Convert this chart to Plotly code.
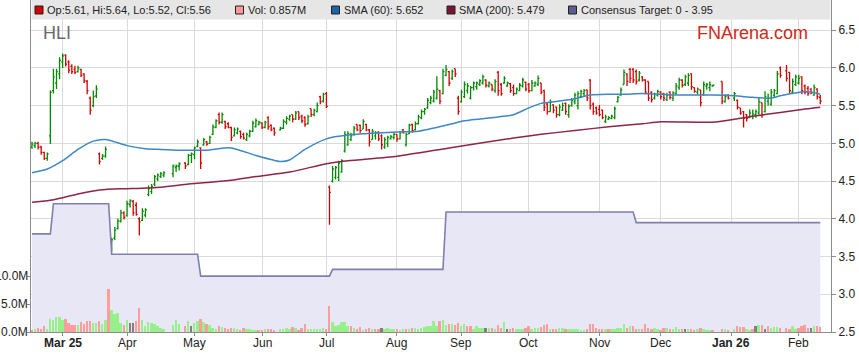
import pandas as pd
import plotly.graph_objects as go

# ---------------- data ----------------
holidays = ["2025-04-18", "2025-04-21", "2025-04-25", "2025-06-09",
            "2025-12-25", "2025-12-26", "2026-01-01", "2026-01-26"]

opens = [
    4.95, 4.97, 5.00, 4.95, 4.88, 4.80, 5.10, 5.70, 5.80, 5.92,  # Feb 25
    6.08, 6.17, 6.08, 6.02, 5.98, 5.95, 5.98, 5.92, 5.82, 5.60, 5.50, 5.63, 4.86, 4.80, 4.83, 3.80, 3.60, 3.74, 3.87, 3.97, 4.08,  # Mar
    4.04, 4.19, 4.23, 4.18, 4.00, 3.98, 4.05, 4.32, 4.36, 4.46, 4.53, 4.56, 4.58, 4.60, 4.68, 4.70, 4.74, 4.72, 4.84,  # Apr
    4.85, 4.96, 4.94, 4.98, 5.02, 5.00, 5.12, 5.21, 5.38, 5.28, 5.29, 5.26, 5.21, 5.10, 5.14, 5.16, 5.12, 5.05, 5.10, 5.16, 5.22, 5.25,  # May
    5.27, 5.21, 5.34, 5.24, 5.20, 5.18, 5.20, 5.28, 5.32, 5.38, 5.32, 5.42, 5.36, 5.34, 5.26, 5.46, 5.38, 5.42, 5.62, 5.56,  # Jun
    5.66, 4.42, 4.50, 4.55, 4.55, 4.62, 4.90, 4.98, 5.05, 5.12, 5.25, 5.24, 5.19, 5.25, 5.18, 5.05, 5.10, 5.15, 5.10, 4.95, 5.00, 5.06, 5.08,  # Jul
    5.12, 5.06, 5.18, 4.98, 5.13, 5.25, 5.18, 5.26, 5.34, 5.42, 5.47, 5.54, 5.56, 5.60, 5.70, 5.66, 5.90, 5.95, 5.86, 5.99, 5.60,  # Aug
    5.55, 5.62, 5.70, 5.60, 5.74, 5.75, 5.78, 5.80, 5.84, 5.76, 5.78, 5.70, 5.94, 5.78, 5.80, 5.76, 5.79, 5.74, 5.66, 5.70, 5.76, 5.81,  # Sep
    5.78, 5.70, 5.76, 5.78, 5.80, 5.70, 5.52, 5.42, 5.51, 5.48, 5.38, 5.44, 5.53, 5.38, 5.50, 5.55, 5.50, 5.62, 5.66, 5.71, 5.84, 5.52, 5.47,  # Oct
    5.45, 5.44, 5.29, 5.32, 5.33, 5.34, 5.55, 5.64, 5.78, 5.92, 5.98, 5.98, 5.95, 5.84, 5.88, 5.84, 5.82, 5.68, 5.60, 5.64,  # Nov
    5.68, 5.66, 5.58, 5.68, 5.60, 5.66, 5.74, 5.84, 5.78, 5.80, 5.92, 5.74, 5.68, 5.71, 5.65, 5.76, 5.74, 5.76, 5.82, 5.55, 5.64,  # Dec
    5.60, 5.57, 5.47, 5.42, 5.38, 5.34, 5.36, 5.38, 5.40, 5.54, 5.42, 5.56, 5.52, 5.64, 5.66, 6.00, 5.96, 5.94, 5.68, 5.78,  # Jan 26
    5.80, 5.88, 5.76, 5.73, 5.72, 5.64, 5.72, 5.61,  # Feb
]
highs = [
    5.02, 5.02, 5.02, 4.97, 4.89, 4.88, 5.70, 5.99, 5.99, 6.14,
    6.19, 6.18, 6.10, 6.05, 6.03, 6.03, 5.99, 5.93, 5.84, 5.62, 5.70, 5.77, 4.88, 4.86, 4.96, 3.86, 3.75, 3.89, 4.00, 4.12, 4.10,
    4.24, 4.26, 4.25, 4.22, 4.02, 4.14, 4.14, 4.44, 4.46, 4.58, 4.60, 4.62, 4.63, 4.72, 4.72, 4.75, 4.75, 4.86, 4.88,
    4.96, 5.05, 4.95, 5.07, 5.03, 5.10, 5.25, 5.32, 5.41, 5.41, 5.30, 5.28, 5.22, 5.21, 5.21, 5.17, 5.14, 5.14, 5.18, 5.30, 5.33, 5.30,
    5.28, 5.30, 5.36, 5.25, 5.21, 5.22, 5.32, 5.36, 5.38, 5.38, 5.43, 5.42, 5.38, 5.36, 5.38, 5.46, 5.46, 5.54, 5.63, 5.67,
    5.68, 4.44, 4.70, 4.70, 4.77, 4.79, 5.16, 5.16, 5.14, 5.23, 5.25, 5.25, 5.32, 5.26, 5.19, 5.19, 5.16, 5.16, 5.12, 5.08, 5.10, 5.11, 5.14,
    5.12, 5.16, 5.19, 5.14, 5.26, 5.26, 5.29, 5.38, 5.45, 5.47, 5.60, 5.63, 5.71, 5.89, 5.71, 5.99, 6.04, 5.96, 5.98, 5.99, 5.63,
    5.71, 5.82, 5.80, 5.76, 5.82, 5.82, 5.85, 5.91, 5.85, 5.82, 5.78, 5.85, 5.96, 5.80, 5.89, 5.82, 5.80, 5.78, 5.74, 5.80, 5.87, 5.82,
    5.80, 5.84, 5.82, 5.90, 5.80, 5.71, 5.54, 5.58, 5.52, 5.49, 5.52, 5.54, 5.54, 5.52, 5.60, 5.67, 5.69, 5.71, 5.72, 5.71, 5.85, 5.54, 5.49,
    5.51, 5.45, 5.38, 5.36, 5.38, 5.49, 5.63, 5.74, 5.98, 5.93, 6.00, 6.00, 5.98, 5.96, 5.89, 5.85, 5.82, 5.69, 5.67, 5.71,
    5.69, 5.67, 5.67, 5.69, 5.69, 5.80, 5.87, 5.85, 5.91, 5.93, 5.93, 5.74, 5.74, 5.71, 5.82, 5.80, 5.82, 5.78, 5.82, 5.65, 5.65,
    5.68, 5.58, 5.47, 5.43, 5.39, 5.45, 5.45, 5.45, 5.60, 5.54, 5.69, 5.66, 5.72, 5.72, 5.96, 6.02, 6.04, 5.95, 5.86, 5.91,
    5.91, 5.89, 5.78, 5.76, 5.73, 5.78, 5.73, 5.64,
]
lows = [
    4.93, 4.94, 4.92, 4.85, 4.78, 4.77, 4.99, 5.66, 5.72, 5.85,
    6.00, 6.02, 5.93, 5.92, 5.92, 5.94, 5.88, 5.80, 5.65, 5.38, 5.48, 5.60, 4.72, 4.78, 4.81, 3.43, 3.57, 3.72, 3.86, 3.95, 3.99,
    4.03, 4.15, 4.04, 4.04, 3.78, 3.97, 4.02, 4.30, 4.33, 4.43, 4.50, 4.54, 4.55, 4.55, 4.62, 4.64, 4.66, 4.71, 4.74,
    4.79, 4.95, 4.66, 4.97, 4.97, 4.99, 5.11, 5.20, 5.25, 5.26, 5.19, 5.20, 5.03, 5.09, 5.12, 5.06, 5.05, 5.03, 5.08, 5.15, 5.21, 5.24,
    5.19, 5.20, 5.18, 5.16, 5.10, 5.17, 5.19, 5.25, 5.30, 5.28, 5.31, 5.31, 5.27, 5.22, 5.25, 5.35, 5.36, 5.41, 5.52, 5.54,
    5.47, 3.92, 4.48, 4.52, 4.50, 4.61, 4.88, 4.97, 5.03, 5.10, 5.16, 5.14, 5.19, 5.16, 4.96, 5.05, 5.05, 5.03, 4.92, 4.93, 4.95, 5.05, 5.05,
    5.02, 5.05, 5.13, 4.96, 5.12, 5.14, 5.17, 5.25, 5.32, 5.38, 5.46, 5.52, 5.54, 5.58, 5.52, 5.65, 5.89, 5.76, 5.84, 5.88, 5.38,
    5.54, 5.60, 5.66, 5.58, 5.70, 5.71, 5.76, 5.78, 5.74, 5.74, 5.69, 5.67, 5.63, 5.63, 5.79, 5.75, 5.67, 5.63, 5.65, 5.69, 5.74, 5.69,
    5.67, 5.69, 5.75, 5.76, 5.65, 5.43, 5.38, 5.42, 5.40, 5.34, 5.36, 5.43, 5.38, 5.34, 5.49, 5.52, 5.45, 5.60, 5.62, 5.56, 5.45, 5.38, 5.38,
    5.36, 5.32, 5.27, 5.31, 5.32, 5.32, 5.54, 5.63, 5.78, 5.76, 5.80, 5.80, 5.78, 5.82, 5.82, 5.65, 5.56, 5.54, 5.58, 5.62,
    5.58, 5.56, 5.56, 5.58, 5.56, 5.65, 5.71, 5.74, 5.76, 5.76, 5.71, 5.67, 5.65, 5.49, 5.63, 5.71, 5.69, 5.75, 5.52, 5.54, 5.58,
    5.56, 5.45, 5.38, 5.21, 5.29, 5.34, 5.32, 5.34, 5.38, 5.34, 5.41, 5.50, 5.50, 5.60, 5.65, 5.87, 5.82, 5.66, 5.66, 5.76,
    5.78, 5.65, 5.65, 5.63, 5.65, 5.63, 5.58, 5.52,
]
closes = [
    4.99, 5.00, 4.95, 4.88, 4.80, 4.86, 5.68, 5.88, 5.95, 6.10,
    6.16, 6.05, 5.97, 5.95, 5.94, 6.00, 5.90, 5.83, 5.70, 5.44, 5.62, 5.72, 4.76, 4.83, 4.92, 3.55, 3.72, 3.85, 3.97, 4.08, 4.02,
    4.20, 4.24, 4.08, 4.06, 3.96, 4.10, 4.12, 4.40, 4.43, 4.56, 4.58, 4.60, 4.61, 4.70, 4.70, 4.73, 4.70, 4.84, 4.86,
    4.94, 5.02, 4.74, 5.05, 4.99, 5.08, 5.22, 5.30, 5.28, 5.38, 5.22, 5.21, 5.08, 5.18, 5.19, 5.09, 5.07, 5.12, 5.16, 5.27, 5.30, 5.28,
    5.21, 5.28, 5.22, 5.18, 5.14, 5.20, 5.29, 5.33, 5.36, 5.32, 5.40, 5.34, 5.30, 5.25, 5.35, 5.38, 5.44, 5.50, 5.55, 5.65,
    5.49, 4.35, 4.66, 4.68, 4.74, 4.77, 5.12, 5.13, 5.10, 5.20, 5.18, 5.17, 5.29, 5.18, 5.02, 5.16, 5.14, 5.06, 4.98, 5.05, 5.08, 5.09, 5.12,
    5.06, 5.14, 5.14, 5.12, 5.24, 5.17, 5.26, 5.35, 5.42, 5.45, 5.57, 5.60, 5.68, 5.72, 5.56, 5.95, 5.98, 5.80, 5.95, 5.92, 5.42,
    5.68, 5.78, 5.76, 5.74, 5.80, 5.80, 5.83, 5.88, 5.77, 5.80, 5.72, 5.82, 5.70, 5.66, 5.86, 5.80, 5.70, 5.66, 5.72, 5.77, 5.84, 5.72,
    5.70, 5.80, 5.80, 5.86, 5.68, 5.48, 5.42, 5.55, 5.44, 5.38, 5.48, 5.50, 5.42, 5.49, 5.57, 5.64, 5.66, 5.69, 5.70, 5.60, 5.50, 5.42, 5.40,
    5.38, 5.34, 5.35, 5.34, 5.36, 5.46, 5.61, 5.71, 5.94, 5.82, 5.86, 5.84, 5.82, 5.93, 5.84, 5.68, 5.60, 5.58, 5.65, 5.69,
    5.62, 5.60, 5.64, 5.61, 5.67, 5.76, 5.84, 5.77, 5.88, 5.90, 5.75, 5.69, 5.72, 5.54, 5.78, 5.78, 5.78, 5.77, 5.56, 5.62, 5.60,
    5.66, 5.48, 5.40, 5.33, 5.33, 5.40, 5.39, 5.42, 5.55, 5.38, 5.62, 5.60, 5.68, 5.70, 5.92, 5.90, 5.86, 5.70, 5.82, 5.88,
    5.86, 5.70, 5.68, 5.66, 5.67, 5.74, 5.62, 5.56,
]
volumes_m = [
    0.3, 0.5, 0.8, 0.6, 1.0, 0.6, 2.3, 2.2, 2.6, 2.6,
    2.2, 2.4, 1.6, 1.3, 1.3, 1.2, 1.7, 1.4, 1.9, 2.0, 1.6, 1.6, 2.0, 1.4, 2.2, 7.6, 4.0, 3.2, 3.4, 1.6, 1.2,
    2.2, 1.6, 1.6, 2.0, 4.3, 2.2, 1.0, 1.8, 1.6, 1.4, 1.0, 0.8, 0.5, 1.3, 2.2, 1.5, 1.0, 1.9, 1.0,
    1.6, 2.0, 2.4, 1.8, 1.5, 1.2, 0.8, 0.6, 1.0, 0.9, 0.8, 0.6, 0.7, 0.8, 0.5, 0.3, 0.7, 0.6, 0.5, 0.3, 0.4, 0.3,
    0.4, 0.6, 0.5, 0.6, 0.3, 0.5, 0.6, 0.8, 0.6, 0.9, 0.7, 0.4, 0.7, 1.5, 0.5, 0.6, 0.6, 0.5, 0.6, 0.7,
    0.6, 4.7, 1.8, 1.1, 1.2, 1.7, 1.7, 1.0, 1.0, 0.8, 0.5, 0.9, 0.4, 0.6, 0.7, 0.5, 0.6, 0.5, 0.8, 0.6, 0.7, 0.5, 0.6,
    0.5, 0.4, 0.5, 0.6, 0.5, 0.7, 0.8, 0.6, 0.7, 0.9, 1.0, 1.1, 1.9, 1.0, 2.0, 2.1, 1.2, 1.4, 1.5, 1.3, 1.6,
    1.1, 1.4, 1.0, 1.0, 0.6, 1.0, 0.7, 0.7, 0.8, 0.7, 0.8, 0.6, 1.2, 0.8, 1.7, 0.6, 0.5, 0.7, 0.5, 0.5, 0.6, 0.7,
    1.0, 0.6, 0.8, 0.8, 0.9, 1.2, 1.4, 0.5, 0.5, 0.5, 0.8, 0.7, 0.5, 0.6, 0.5, 0.6, 0.5, 0.3, 0.4, 0.5, 1.4, 1.4, 0.7,
    0.5, 0.6, 0.5, 0.5, 0.5, 0.6, 0.8, 0.7, 1.5, 0.8, 1.0, 1.0, 0.5, 0.5, 0.6, 1.5, 0.8, 0.6, 0.7, 0.5,
    0.4, 0.7, 0.8, 0.5, 0.6, 0.9, 0.6, 0.5, 0.6, 0.6, 0.5, 0.4, 0.6, 0.8, 0.5, 0.3, 0.2, 0.2, 0.6, 0.5, 0.4,
    0.6, 1.0, 0.9, 0.9, 0.5, 0.4, 0.5, 1.0, 1.2, 1.2, 0.6, 1.0, 0.8, 0.9, 0.9, 0.7, 0.8, 0.5, 1.0, 0.6,
    0.7, 1.0, 1.2, 0.7, 0.7, 1.0, 1.0, 0.857,
]
flat_days = ["2025-04-02", "2025-04-03", "2025-04-30", "2025-07-25", "2025-09-11",
             "2025-09-22", "2025-12-11", "2026-01-13", "2026-01-16", "2026-02-06"]

sma60_dates = ["2025-02-17", "2025-02-24", "2025-03-03", "2025-03-10", "2025-03-17", "2025-03-21",
               "2025-03-26", "2025-04-01", "2025-04-09", "2025-04-16", "2025-04-24", "2025-04-29",
               "2025-05-07", "2025-05-19", "2025-05-29", "2025-06-10", "2025-06-13", "2025-06-20",
               "2025-07-01", "2025-07-10", "2025-08-01", "2025-08-12", "2025-08-26", "2025-09-02",
               "2025-09-17", "2025-09-24", "2025-10-01", "2025-10-07", "2025-10-15", "2025-10-22",
               "2025-10-29", "2025-11-06", "2025-11-13", "2025-11-21", "2025-12-01", "2025-12-05",
               "2025-12-18", "2025-12-24", "2026-01-02", "2026-01-12", "2026-01-20", "2026-01-23",
               "2026-02-03", "2026-02-06", "2026-02-11"]
sma60_vals = [4.61, 4.66, 4.77, 4.92, 5.03, 5.05, 5.02, 4.97, 4.93, 4.92, 4.91, 4.91,
              4.91, 4.94, 4.84, 4.76, 4.78, 4.92, 5.06, 5.11, 5.15, 5.16, 5.25, 5.30,
              5.35, 5.38, 5.47, 5.53, 5.56, 5.59, 5.64, 5.65, 5.65, 5.66, 5.65, 5.64,
              5.64, 5.64, 5.63, 5.61, 5.60, 5.63, 5.68, 5.68, 5.652]

sma200_dates = ["2025-02-17", "2025-02-24", "2025-03-03", "2025-03-10", "2025-03-17", "2025-03-21",
                "2025-04-01", "2025-04-16", "2025-04-29", "2025-05-07", "2025-05-19", "2025-05-29",
                "2025-06-13", "2025-07-01", "2025-07-10", "2025-08-01", "2025-08-26", "2025-09-24",
                "2025-10-07", "2025-10-22", "2025-11-06", "2025-11-21", "2025-12-01", "2025-12-24",
                "2026-01-02", "2026-01-12", "2026-01-23", "2026-02-03", "2026-02-11"]
sma200_vals = [4.22, 4.24, 4.28, 4.33, 4.37, 4.39, 4.40, 4.42, 4.46, 4.48, 4.51, 4.56,
               4.62, 4.73, 4.77, 4.83, 4.94, 5.07, 5.12, 5.17, 5.22, 5.26, 5.285, 5.28,
               5.32, 5.36, 5.41, 5.45, 5.479]

target_dates = ["2025-02-17", "2025-02-25", "2025-02-26", "2025-03-24", "2025-03-25",
                "2025-05-02", "2025-05-05", "2025-07-02", "2025-07-03", "2025-08-22",
                "2025-08-25", "2025-11-18", "2025-11-19", "2026-02-11"]
target_vals = [3.80, 3.80, 4.20, 4.20, 3.53, 3.53, 3.24, 3.24, 3.33, 3.33, 4.09, 4.09, 3.95, 3.95]

month_ticks = ["2025-03-03", "2025-04-01", "2025-05-01", "2025-06-02", "2025-07-01", "2025-08-01",
               "2025-09-01", "2025-10-01", "2025-11-03", "2025-12-01", "2026-01-01", "2026-02-02"]
month_labels = ["<b>Mar 25</b>", "Apr", "May", "Jun", "Jul", "Aug", "Sep", "Oct", "Nov", "Dec",
                "<b>Jan 26</b>", "Feb"]
price_ticks = [2.5, 3.0, 3.5, 4.0, 4.5, 5.0, 5.5, 6.0, 6.5]
vol_ticks = [0, 5e6, 10e6]
vol_labels = ["0.0M", "5.0M", "10.0M"]

# ---------------- styling ----------------
FONT = "Liberation Sans, Arial, sans-serif"
GREEN = "#008a00"
RED = "#d40000"
VOL_UP = "#98f08c"
VOL_DN = "#ff9c9c"
VOL_FLAT = "#808080"
SMA60_C = "#3c88c4"
SMA200_C = "#8e2448"
TGT_LINE = "#8080ae"
TGT_FILL = "#e7e7f6"
GRID = "#dadada"
AXIS = "#8c8c8c"
TXT = "#222222"

days = pd.bdate_range("2025-02-17", "2026-02-11")
dates = [d for d in days if d.strftime("%Y-%m-%d") not in holidays]

vol_colors = []
for i, d in enumerate(dates):
    ds = d.strftime("%Y-%m-%d")
    if ds in flat_days:
        vol_colors.append(VOL_FLAT)
    elif i > 0 and closes[i] >= closes[i - 1]:
        vol_colors.append(VOL_UP)
    else:
        vol_colors.append(VOL_DN)

fig = go.Figure()
fig.add_trace(go.Scatter(x=target_dates, y=target_vals, mode="lines", fill="tozeroy",
                         fillcolor=TGT_FILL, line=dict(color=TGT_LINE, width=1.6),
                         hoverinfo="skip", showlegend=False))
fig.add_trace(go.Scatter(x=sma200_dates, y=sma200_vals, mode="lines",
                         line=dict(color=SMA200_C, width=1.5, shape="spline", smoothing=0.6),
                         hoverinfo="skip", showlegend=False))
fig.add_trace(go.Scatter(x=sma60_dates, y=sma60_vals, mode="lines",
                         line=dict(color=SMA60_C, width=1.5, shape="spline", smoothing=0.6),
                         hoverinfo="skip", showlegend=False))
fig.add_trace(go.Ohlc(x=dates, open=opens, high=highs, low=lows, close=closes,
                      increasing=dict(line=dict(color=GREEN, width=1.3)),
                      decreasing=dict(line=dict(color=RED, width=1.3)),
                      tickwidth=0.45, hoverinfo="skip", showlegend=False))
fig.add_trace(go.Bar(x=dates, y=[v * 1e6 for v in volumes_m], marker_color=vol_colors,
                     marker_line_width=0, width=0.62 * 86400000, yaxis="y2",
                     hoverinfo="skip", showlegend=False))

L, R, T, B = 31, 28, 0, 31
W, H = 859, 363
PW, PH = W - L - R, H - T - B


def px(x):
    return (x - L) / PW


def py(y):
    return 1 - (y - T) / PH


shapes = [dict(type="rect", xref="paper", yref="paper", x0=px(31.6), x1=px(830.4),
               y0=py(19.5), y1=1, fillcolor="#e6e6e6", line=dict(width=0), layer="above")]

legend_items = [
    (35, RED, f"Op:{opens[-1]:.2f}, Hi:{highs[-1]:.2f}, Lo:{lows[-1]:.2f}, Cl:{closes[-1]:.2f}"),
    (235.5, "#ff9999", f"Vol: {volumes_m[-1]:.3f}M"),
    (331.5, "#1f63a8", f"SMA (60): {sma60_vals[-1]:.3f}"),
    (447, "#7e1236", f"SMA (200): {sma200_vals[-1]:.3f}"),
    (568.5, "#5c5c8e", f"Consensus Target: 0 - {target_vals[-1]:.2f}"),
]
annotations = []
for x0, col, txt in legend_items:
    shapes.append(dict(type="rect", xref="paper", yref="paper", x0=px(x0), x1=px(x0 + 8),
                       y0=py(14), y1=py(6), fillcolor=col, line=dict(color="#222", width=1),
                       layer="above"))
    annotations.append(dict(xref="paper", yref="paper", x=px(x0 + 10), y=py(10), text=txt,
                            showarrow=False, xanchor="left", yanchor="middle",
                            font=dict(family=FONT, size=11, color=TXT)))

annotations.append(dict(xref="paper", yref="paper", x=px(41), y=py(32.5), text="HLI",
                        showarrow=False, xanchor="left", yanchor="middle",
                        font=dict(family=FONT, size=18, color="#6a6a6a")))
annotations.append(dict(xref="paper", yref="paper", x=px(810), y=py(33), text="FNArena.com",
                        showarrow=False, xanchor="right", yanchor="middle",
                        font=dict(family=FONT, size=18, color="#cc2a1a")))

# x tick labels (placed as text just under the short ticks)
for tv, tt in zip(month_ticks, month_labels):
    annotations.append(dict(xref="x", yref="paper", x=tv, y=py(342.5), text=tt,
                            showarrow=False, xanchor="center", yanchor="middle",
                            font=dict(family=FONT, size=12, color=TXT)))
# volume tick labels, snug against the left axis
for tv, tt in zip(vol_ticks, vol_labels):
    annotations.append(dict(xref="paper", yref="y2", x=px(29.5), y=tv, text=tt,
                            showarrow=False, xanchor="right", yanchor="middle",
                            font=dict(family=FONT, size=12, color=TXT)))

fig.update_layout(
    width=W, height=H, autosize=False,
    margin=dict(l=L, r=R, t=T, b=B, pad=0, autoexpand=False),
    paper_bgcolor="white", plot_bgcolor="white",
    showlegend=False, bargap=0,
    font=dict(family=FONT, size=12, color=TXT),
    shapes=shapes, annotations=annotations,
    xaxis=dict(type="date", range=["2025-02-14 16:30", "2026-02-16 12:00"],
               rangebreaks=[dict(bounds=["sat", "mon"])],
               rangeslider=dict(visible=False), automargin=False,
               tickmode="array", tickvals=month_ticks, showticklabels=False,
               showgrid=True, gridcolor=GRID, gridwidth=1,
               ticks="outside", ticklen=3, tickcolor=AXIS,
               showline=True, linecolor=AXIS, linewidth=1, zeroline=False),
    yaxis=dict(side="right", range=[2.5, 6.9], tickmode="array", tickvals=price_ticks,
               ticktext=[f"{v:.1f}" for v in price_ticks], automargin=False,
               showgrid=True, gridcolor=GRID, gridwidth=1,
               ticks="outside", ticklen=4, tickcolor=AXIS,
               showline=True, linecolor=AXIS, linewidth=1, zeroline=False,
               tickfont=dict(family=FONT, size=12, color=TXT)),
    yaxis2=dict(overlaying="y", side="left", range=[0, 59.3e6], tickmode="array",
                tickvals=vol_ticks, showticklabels=False,
                showgrid=False, zeroline=False, automargin=False,
                ticks="outside", ticklen=3, tickcolor=AXIS,
                showline=True, linecolor=AXIS, linewidth=1),
)

fig.write_html("out.html", config={"displayModeBar": False},
               post_script="document.body.style.margin='0';document.body.style.overflow='hidden';")
